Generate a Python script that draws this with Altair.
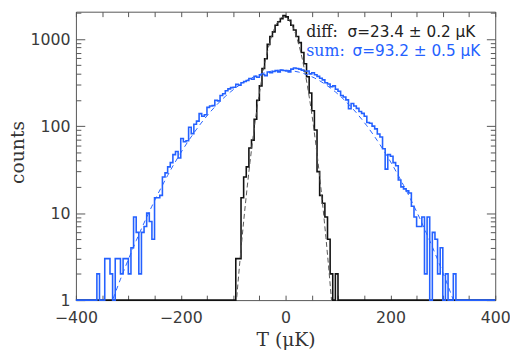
import altair as alt
import pandas as pd

W, H = 426, 293

# bin edges of both histograms (5 uK bins)
bin_edges = list(range(-400, 405, 5))

# "sum" histogram counts, bins starting at -400 ... 395
sum_counts = [
    0, 0, 0, 0, 0, 0, 0, 0,
    2, 0, 0, 3, 3, 2, 0, 3,
    3, 2, 3, 3, 2, 4, 9, 6,
    2, 6, 7, 10, 8, 5, 15, 15,
    16, 26, 29, 34, 38, 47, 51, 43,
    72, 66, 68, 97, 82, 105, 114, 139,
    130, 135, 164, 170, 172, 198, 195, 225,
    235, 255, 268, 277, 280, 303, 295, 315,
    325, 335, 352, 345, 373, 365, 388, 392,
    380, 418, 410, 425, 434, 420, 442, 435,
    430, 420, 452, 465, 460, 452, 440, 427,
    430, 398, 410, 390, 373, 355, 340, 315,
    305, 283, 290, 265, 252, 225, 216, 200,
    158, 182, 170, 160, 147, 140, 130, 110,
    108, 100, 93, 81, 75, 55, 32, 47,
    45, 38, 35, 24, 20, 19, 18, 17,
    12, 9, 7, 7, 9, 2, 9, 0,
    6, 5, 2, 4, 0, 2, 0, 0,
    2, 0, 0, 0, 0, 0, 0, 0,
    0, 0, 0, 0, 0, 0, 0, 0,
]

# "diff" histogram counts, bins -100 ... 95 (empty elsewhere)
diff_core = [
    0, 3, 3, 15, 26, 34, 56, 69,
    120, 198, 290, 460, 595, 870, 1070, 1210,
    1440, 1580, 1720, 1860, 1800, 1650, 1440, 1270,
    1070, 910, 700, 520, 370, 240, 150, 90,
    30, 16, 13, 9, 5, 2, 0, 2,
]
diff_counts = [0] * 60 + diff_core + [0] * 60

# dashed gaussian fits
sum_fit_T = list(range(-335, 335, 10))
sum_fit_half = [0.83, 1.21, 1.74, 2.47, 3.47, 4.82, 6.61, 8.98, 12.0, 16.0,
                20.9, 27.1, 34.8, 44.0, 55.1, 68.2, 83.4, 100.9, 120.6, 142.5,
                166.4, 192.1, 219.3, 247.5, 276.1, 304.5, 332.0, 357.8, 381.1,
                401.3, 417.8, 430.0, 437.5]
sum_fit_counts = sum_fit_half + [440.0] + sum_fit_half[::-1]

diff_fit_T = list(range(-98, 93, 5))
diff_fit_half = [0.47, 1.11, 2.46, 5.22, 10.6, 20.5, 38.0, 67.3, 114, 184,
                 283, 418, 588, 791, 1017, 1250, 1466, 1643, 1759]
diff_fit_counts = diff_fit_half + [1800] + diff_fit_half[::-1]

sum_label = ["sum:", "σ=93.2 ± 0.5 μK"]
diff_label = ["diff:", "σ=23.4 ± 0.2 μK"]

BLUE = "#2461ff"
AX = "#555555"


def step_table(counts):
    rows = [{"T": bin_edges[i], "n": counts[i]} for i in range(len(counts))]
    rows.append({"T": bin_edges[-1], "n": counts[-1]})
    return pd.DataFrame(rows)


sum_df = step_table(sum_counts)
diff_df = step_table(diff_counts)
sum_fit_df = pd.DataFrame({"T": sum_fit_T, "n": sum_fit_counts})
diff_fit_df = pd.DataFrame({"T": diff_fit_T, "n": diff_fit_counts})

xs = alt.Scale(domain=[-400, 400], nice=False, zero=False)
ys = alt.Scale(type="log", domain=[1, 2065], nice=False)

major_y = [1, 10, 100, 1000]
minor_y = [2, 3, 4, 5, 6, 7, 8, 9, 20, 30, 40, 50, 60, 70, 80, 90,
           200, 300, 400, 500, 600, 700, 800, 900, 2000]
x_ticks = list(range(-400, 401, 50))

common_tick = dict(labels=False, domain=False, grid=False, ticks=True,
                   tickColor=AX, tickWidth=1, title=None)

label_x = alt.Axis(values=[-400, -200, 0, 200, 400], ticks=False, tickSize=0,
                   domain=False, grid=False, labelFont="DejaVu Sans",
                   labelFontSize=16, labelColor="#3a3a3a", labelPadding=10,
                   labelFlush=False, labelOverlap=False,
                   title="T (μK)", titleFont="DejaVu Serif", titleFontSize=19,
                   titleFontWeight="normal", titleColor="#333",
                   titleX=W / 2, titleY=46, titleBaseline="alphabetic")
label_y = alt.Axis(orient="left", values=major_y, format="d", ticks=False,
                   tickSize=0, domain=False, grid=False, labelFont="DejaVu Sans",
                   labelFontSize=16, labelColor="#3a3a3a", labelPadding=6,
                   labelFlush=False, labelOverlap=False,
                   title="counts", titleFont="DejaVu Serif", titleFontSize=19,
                   titleFontWeight="normal", titleColor="#333",
                   titleX=-53, titleY=H / 2 - 4, titleBaseline="alphabetic")

xt_bottom = alt.Axis(orient="top", offset=-H, values=x_ticks, tickSize=5, **common_tick)
xt_top = alt.Axis(orient="bottom", offset=-H, values=x_ticks, tickSize=5, **common_tick)
yt_left_major = alt.Axis(orient="right", offset=-W, values=major_y, tickSize=9, **common_tick)
yt_left_minor = alt.Axis(orient="right", offset=-W, values=minor_y, tickSize=5, **common_tick)
yt_right_major = alt.Axis(orient="left", offset=-W, values=major_y, tickSize=9, **common_tick)
yt_right_minor = alt.Axis(orient="left", offset=-W, values=minor_y, tickSize=5, **common_tick)

ycalc = "max(datum.n, 1)"

diff_hist = alt.Chart(diff_df).transform_calculate(y=ycalc).mark_line(
    interpolate="step-after", color="#111", strokeWidth=1.6
).encode(x=alt.X("T:Q", scale=xs, axis=label_x),
         y=alt.Y("y:Q", scale=ys, axis=label_y))

sum_hist = alt.Chart(sum_df).transform_calculate(y=ycalc).mark_line(
    interpolate="step-after", color=BLUE, strokeWidth=1.6
).encode(x=alt.X("T:Q", scale=xs, axis=xt_bottom),
         y=alt.Y("y:Q", scale=ys, axis=yt_left_major))

diff_fit = alt.Chart(diff_fit_df).mark_line(
    color="#555", strokeWidth=1, strokeDash=[5, 3], clip=True
).encode(x=alt.X("T:Q", scale=xs, axis=xt_top),
         y=alt.Y("n:Q", scale=ys, axis=yt_right_major))

sum_fit = alt.Chart(sum_fit_df).mark_line(
    color=BLUE, strokeWidth=1, strokeDash=[5, 4], clip=True
).encode(x=alt.X("T:Q", scale=xs, axis=None),
         y=alt.Y("n:Q", scale=ys, axis=yt_left_minor))

ghost = alt.Chart(diff_fit_df).mark_point(opacity=0).encode(
    x=alt.X("T:Q", scale=xs, axis=None),
    y=alt.Y("n:Q", scale=ys, axis=yt_right_minor))


def txt(s, x, y, font, size, color):
    return alt.Chart(pd.DataFrame({"t": [s]})).mark_text(
        align="left", baseline="alphabetic", font=font, fontSize=size, color=color
    ).encode(x=alt.value(x), y=alt.value(y), text="t:N")


texts = [
    txt(diff_label[0], 234, 26, "DejaVu Serif", 16, "#222"),
    txt(diff_label[1], 276, 26, "DejaVu Sans", 15.5, "#222"),
    txt(sum_label[0], 234, 45, "DejaVu Serif", 16, BLUE),
    txt(sum_label[1], 281, 45, "DejaVu Sans", 15.5, BLUE),
]

chart = alt.layer(diff_hist, sum_hist, diff_fit, sum_fit, ghost, *texts).resolve_scale(
    x="shared", y="shared"
).resolve_axis(x="independent", y="independent").properties(
    width=W, height=H,
    autosize=alt.AutoSizeParams(type="none"),
    padding={"left": 69, "top": 1, "right": 15, "bottom": 52},
).configure_view(stroke=AX, strokeWidth=1)

chart.save("out.html", embed_options={"renderer": "svg", "actions": False})
